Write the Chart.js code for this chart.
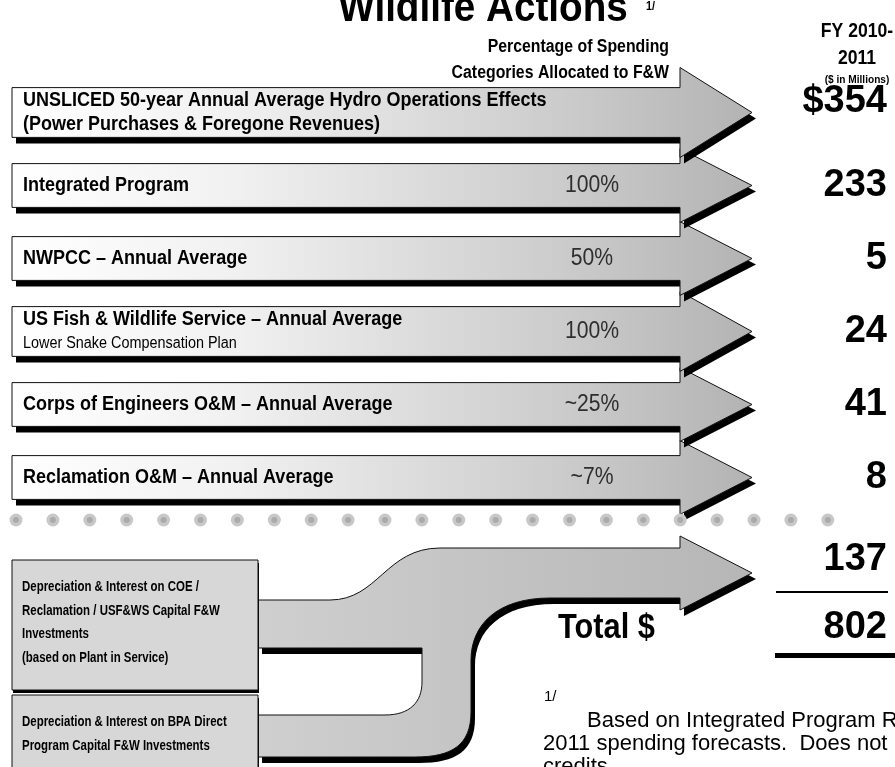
<!DOCTYPE html>
<html lang="en">
<head>
<meta charset="UTF-8">
<title>Wildlife Actions</title>
<script src="https://cdn.jsdelivr.net/npm/chart.js"></script>
<style>
    html, body { margin: 0; padding: 0; background: #ffffff; overflow: hidden; }
    canvas { display: block; }
</style>
</head>
<body>
<canvas id="flowChart" width="895" height="767"></canvas>
<script>
    // spending categories (one arrow each)
    const rowLabels = [
        ['UNSLICED 50-year Annual Average Hydro Operations Effects', '(Power Purchases & Foregone Revenues)'],
        ['Integrated Program'],
        ['NWPCC – Annual Average'],
        ['US Fish & Wildlife Service – Annual Average', 'Lower Snake Compensation Plan'],
        ['Corps of Engineers O&M – Annual Average'],
        ['Reclamation O&M – Annual Average']
    ];
    const allocationPct = ['', '100%', '50%', '100%', '~25%', '~7%'];
    const amounts = [354, 233, 5, 24, 41, 8];   // FY 2010-2011, $ in millions

    // capital investments feeding the lower arrow
    const capitalLabels = [
        ['Depreciation & Interest on COE /', 'Reclamation / USF&WS Capital F&W', 'Investments', '(based on Plant in Service)'],
        ['Depreciation & Interest on BPA Direct', 'Program Capital F&W Investments']
    ];
    const capitalAmount = 137;
    const totalAmount = 802;

    const SANS = '"Liberation Sans", Arial, Helvetica, sans-serif';

    const arrowPath = (ctx, x0, headX, tipX, cy, h, H) => {
        ctx.beginPath();
        ctx.moveTo(x0, cy - h);
        ctx.lineTo(headX, cy - h);
        ctx.lineTo(headX, cy - H);
        ctx.lineTo(tipX, cy);
        ctx.lineTo(headX, cy + H);
        ctx.lineTo(headX, cy + h);
        ctx.lineTo(x0, cy + h);
        ctx.closePath();
    };

    const flowPath = (ctx, headX, tipX, cy) => {
        ctx.beginPath();
        ctx.moveTo(258, 600);
        ctx.lineTo(330, 600);
        ctx.bezierCurveTo(378, 600, 386, cy - 25, 440, cy - 25);
        ctx.lineTo(headX, cy - 25);
        ctx.lineTo(headX, cy - 37);
        ctx.lineTo(tipX, cy);
        ctx.lineTo(headX, cy + 37);
        ctx.lineTo(headX, cy + 25);
        ctx.lineTo(550, cy + 25);
        ctx.bezierCurveTo(497, cy + 25, 471, 625, 471, 660);
        ctx.lineTo(471, 712);
        ctx.bezierCurveTo(471, 745, 452, 757, 415, 757);
        ctx.lineTo(258, 757);
        ctx.lineTo(258, 715);
        ctx.lineTo(385, 715);
        ctx.bezierCurveTo(410, 715, 422, 702, 422, 682);
        ctx.lineTo(422, 648);
        ctx.lineTo(258, 648);
        ctx.closePath();
    };

    const withShadow = (ctx, drawPath, fill, dx, dy) => {
        ctx.save();
        ctx.translate(dx, dy);
        drawPath();
        ctx.fillStyle = '#000000';
        ctx.fill();
        ctx.restore();
        drawPath();
        ctx.fillStyle = fill;
        ctx.fill();
        ctx.lineWidth = 1;
        ctx.strokeStyle = '#111111';
        ctx.stroke();
    };

    // sx squeezes the glyphs horizontally to get the narrow face of the original
    const text = (ctx, str, x, y, font, opts = {}) => {
        ctx.save();
        ctx.font = font;
        ctx.textAlign = opts.align || 'left';
        ctx.textBaseline = opts.baseline || 'middle';
        ctx.fillStyle = opts.color || '#000000';
        ctx.translate(x, y);
        ctx.scale(opts.sx || 1, 1);
        ctx.fillText(str, 0, 0);
        ctx.restore();
    };

    const infographic = {
        id: 'infographic',
        afterDraw(chart) {
            const ctx = chart.ctx;
            const area = chart.chartArea;
            const meta = chart.getDatasetMeta(0);
            const left = area.left;
            const tipX = area.right;
            const headX = tipX - 72;

            ctx.save();

            // titles
            text(ctx, 'Wildlife Actions', 483, 21, 'bold 42px ' + SANS, { align: 'center', baseline: 'alphabetic', sx: 0.92 });
            text(ctx, '1/', 646, 7, 'bold 12px ' + SANS, { sx: 0.9 });
            text(ctx, 'Percentage of Spending', 669, 47, 'bold 18px ' + SANS, { align: 'right', sx: 0.88 });
            text(ctx, 'Categories Allocated to F&W', 669, 73, 'bold 18px ' + SANS, { align: 'right', sx: 0.88 });
            text(ctx, 'FY 2010-', 857, 31, 'bold 20px ' + SANS, { align: 'center', sx: 0.88 });
            text(ctx, '2011', 857, 58, 'bold 20px ' + SANS, { align: 'center', sx: 0.88 });
            text(ctx, '($ in Millions)', 857, 80, 'bold 11.5px ' + SANS, { align: 'center', sx: 0.88 });

            // arrows, bottom first so the upper shadows lie on top
            const grad = ctx.createLinearGradient(left, 0, tipX, 0);
            grad.addColorStop(0, '#ffffff');
            grad.addColorStop(0.3, '#f1f1f1');
            grad.addColorStop(0.75, '#cbcbcb');
            grad.addColorStop(1, '#b3b3b3');

            for (let i = meta.data.length - 1; i >= 0; i--) {
                const bar = meta.data[i];
                const cy = bar.y;
                const twoLines = rowLabels[i].length > 1;
                const h = bar.height / 2 + (twoLines ? 3 : 0);
                const H = i === 0 ? 45 : h + 15;
                withShadow(ctx, () => arrowPath(ctx, left, headX, tipX, cy, h, H), grad, 4, 6);

                const titleFont = 'bold 20px ' + SANS;
                if (twoLines) {
                    text(ctx, rowLabels[i][0], left + 11, cy - 12, titleFont, { sx: 0.9 });
                    if (i === 0) {
                        text(ctx, rowLabels[i][1], left + 11, cy + 12, titleFont, { sx: 0.9 });
                    } else {
                        text(ctx, rowLabels[i][1], left + 11, cy + 12, '16px ' + SANS, { sx: 0.9 });
                    }
                } else {
                    text(ctx, rowLabels[i][0], left + 11, cy, titleFont, { sx: 0.9 });
                }
                if (allocationPct[i]) {
                    text(ctx, allocationPct[i], 592, cy, '23px ' + SANS, { align: 'center', color: '#2e2e2e', sx: 0.92 });
                }
                const label = (i === 0 ? '$' : '') + amounts[i];
                text(ctx, label, 887, i === 0 ? cy - 11 : cy, 'bold 38px ' + SANS, { align: 'right' });
            }

            // dotted separator
            const sepY = area.bottom + 6;
            for (let x = 16; x <= 830; x += 36.9) {
                ctx.beginPath();
                ctx.arc(x, sepY, 6.5, 0, Math.PI * 2);
                ctx.fillStyle = '#c8c8c8';
                ctx.fill();
                ctx.beginPath();
                ctx.arc(x, sepY, 3, 0, Math.PI * 2);
                ctx.fillStyle = '#aaaaaa';
                ctx.fill();
            }

            // capital arrow merging two streams
            const cy7 = area.bottom + 59;
            const flowGrad = ctx.createLinearGradient(258, 0, tipX, 0);
            flowGrad.addColorStop(0, '#cfcfcf');
            flowGrad.addColorStop(1, '#b6b6b6');
            withShadow(ctx, () => flowPath(ctx, headX, tipX, cy7), flowGrad, 4, 6);

            const boxes = [[560, 130], [695, 90]];
            boxes.forEach(([top, hgt], b) => {
                withShadow(ctx, () => {
                    ctx.beginPath();
                    ctx.rect(left, top, 246, hgt);
                }, '#d7d7d7', 1, 3);
                capitalLabels[b].forEach((line, k) => {
                    text(ctx, line, left + 10, top + 27 + k * 23.5, 'bold 14.5px ' + SANS, { sx: 0.79 });
                });
            });

            // totals
            text(ctx, String(capitalAmount), 887, cy7 - 13, 'bold 38px ' + SANS, { align: 'right' });
            ctx.fillStyle = '#000000';
            ctx.fillRect(776, cy7 + 18, 112, 2);
            text(ctx, 'Total $', 558, 628, 'bold 35px ' + SANS, { sx: 0.88 });
            text(ctx, String(totalAmount), 887, 628, 'bold 38px ' + SANS, { align: 'right' });
            ctx.fillRect(775, 653, 120, 5);

            // footnote
            text(ctx, '1/', 544, 697, '15px ' + SANS);
            text(ctx, 'Based on Integrated Program Review', 587, 721, '22px ' + SANS);
            text(ctx, '2011 spending forecasts.  Does not', 543, 744, '22px ' + SANS);
            text(ctx, 'credits', 543, 767, '22px ' + SANS);

            ctx.restore();
        }
    };

    new Chart(document.getElementById('flowChart'), {
        type: 'bar',
        data: {
            labels: rowLabels.map(l => l[0]),
            datasets: [{
                data: amounts,
                backgroundColor: 'rgba(0, 0, 0, 0)',
                barPercentage: 1,
                categoryPercentage: 0.6
            }]
        },
        options: {
            indexAxis: 'y',
            responsive: false,
            animation: false,
            layout: { padding: { left: 12, right: 143, top: 76, bottom: 253 } },
            scales: {
                x: { display: false, min: 0, max: 400 },
                y: { display: false }
            },
            plugins: {
                legend: { display: false },
                tooltip: { enabled: false }
            }
        },
        plugins: [infographic]
    });
</script>
</body>
</html>
